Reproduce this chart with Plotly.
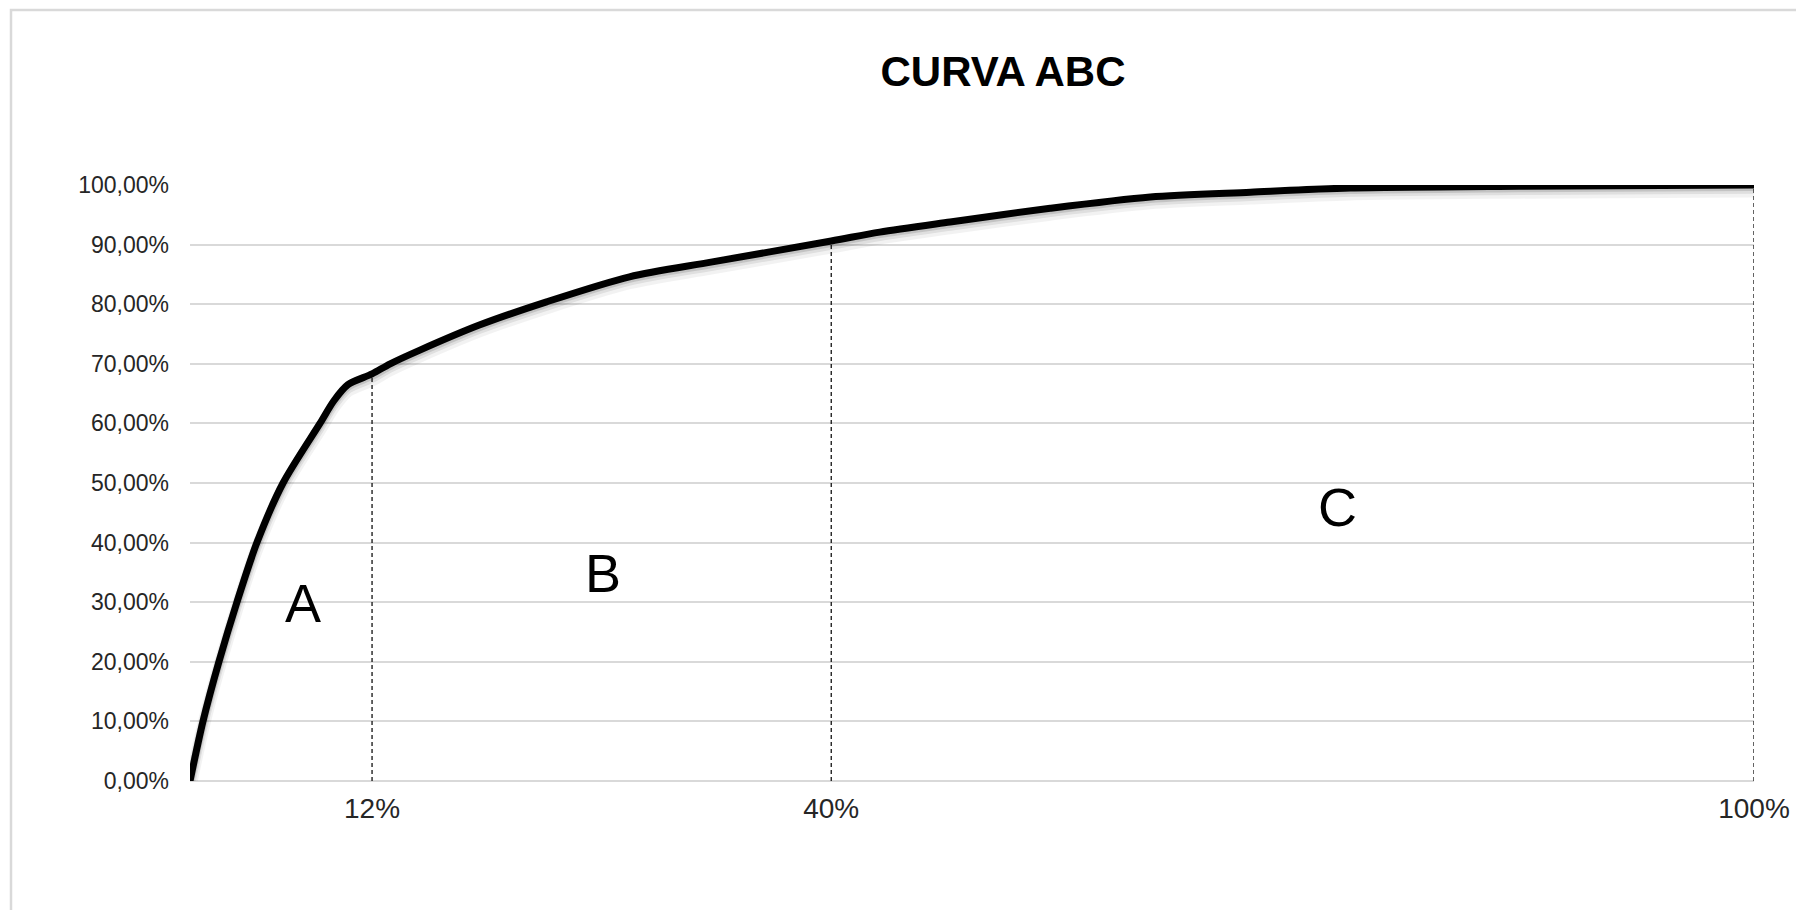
import plotly.graph_objects as go

# Cumulative ABC curve: share of items (x, %) vs. cumulative share of value (y, %)
item_pct = [0, 0.83, 1.85, 3.0, 4.28, 5.95, 8.31, 9.2, 10.1, 11.64, 12.8, 14.7, 18.5,
            22.8, 28.1, 33.4, 41.0, 44.1, 48.6, 55.0, 61.4, 67.8, 74.2, 85.0, 100.0]
cum_pct = [0, 10, 20, 30, 40, 50, 60, 63.8, 66.5, 68.3, 70.0, 72.3, 76.5,
           80.4, 84.6, 87.1, 90.6, 92.1, 93.8, 96.1, 98.0, 98.8, 99.5, 99.8, 100.0]

# Class boundaries (drop lines) and their axis labels
boundary_pos = [11.64, 41.0, 100.0]
boundary_cum = [68.3, 90.6, 100.0]
boundary_labels = ["12%", "40%", "100%"]

# Class letters and where they sit
class_names = ["A", "B", "C"]
class_x = [7.2, 26.4, 73.4]
class_y = [29.9, 34.9, 45.9]

y_ticks = [0, 10, 20, 30, 40, 50, 60, 70, 80, 90, 100]
y_tick_text = [f"{v:.2f}%".replace(".", ",") for v in y_ticks]

FONT = "Liberation Sans, Arial, Helvetica, sans-serif"
SMOOTH = 0.8

fig = go.Figure()

# soft drop shadow under the curve
for off, alpha, w in [(1.0, 0.05, 13), (0.65, 0.08, 10), (0.35, 0.12, 8)]:
    fig.add_trace(go.Scatter(
        x=item_pct, y=[v - off for v in cum_pct], mode="lines",
        line=dict(color=f"rgba(0,0,0,{alpha})", width=w, shape="spline", smoothing=SMOOTH),
        hoverinfo="skip", showlegend=False,
    ))

# dashed drop lines at the class boundaries
for bx, by in zip(boundary_pos, boundary_cum):
    fig.add_trace(go.Scatter(
        x=[bx, bx], y=[0, by], mode="lines",
        line=dict(color="#111111", width=1.3, dash="4px,3px"),
        hoverinfo="skip", showlegend=False,
    ))

# the curve itself
fig.add_trace(go.Scatter(
    x=item_pct, y=cum_pct, mode="lines",
    line=dict(color="black", width=7, shape="spline", smoothing=SMOOTH),
    showlegend=False, name="Curva ABC",
))

for name, cx, cy in zip(class_names, class_x, class_y):
    fig.add_annotation(x=cx, y=cy, text=name, showarrow=False,
                       font=dict(family=FONT, size=54, color="black"),
                       xanchor="center", yanchor="middle")

fig.update_layout(
    width=1796, height=910,
    margin=dict(l=190, r=42, t=185, b=129, autoexpand=False),
    paper_bgcolor="white", plot_bgcolor="white",
    title=dict(text="<b>CURVA ABC</b>", x=1003 / 1796, xanchor="center",
               y=1 - 71 / 910, yanchor="middle",
               font=dict(family=FONT, size=42, color="black")),
    font=dict(family=FONT, color="#262626"),
    xaxis=dict(range=[0, 100], tickmode="array", tickvals=boundary_pos,
               ticktext=boundary_labels, showgrid=False, zeroline=False,
               showline=False, ticks="", tickfont=dict(size=28, color="#262626"),
               ticklabelstandoff=8, automargin=False, fixedrange=True),
    yaxis=dict(range=[0, 100], tickmode="array", tickvals=y_ticks,
               ticktext=y_tick_text, showgrid=True,
               gridcolor="#d9d9d9", gridwidth=2, zeroline=True,
               zerolinecolor="#d9d9d9", zerolinewidth=2, showline=False,
               ticks="", tickfont=dict(size=23, color="#262626"),
               ticklabelstandoff=20, automargin=False, fixedrange=True),
    shapes=[dict(type="rect", xref="paper", yref="paper",
                 x0=(11 - 190) / 1564, x1=(1810 - 190) / 1564,
                 y0=(781 - 930) / 596, y1=(781 - 10) / 596,
                 line=dict(color="#d9d9d9", width=2.5), fillcolor="rgba(0,0,0,0)",
                 layer="below")],
)

fig.write_html("out.html")
